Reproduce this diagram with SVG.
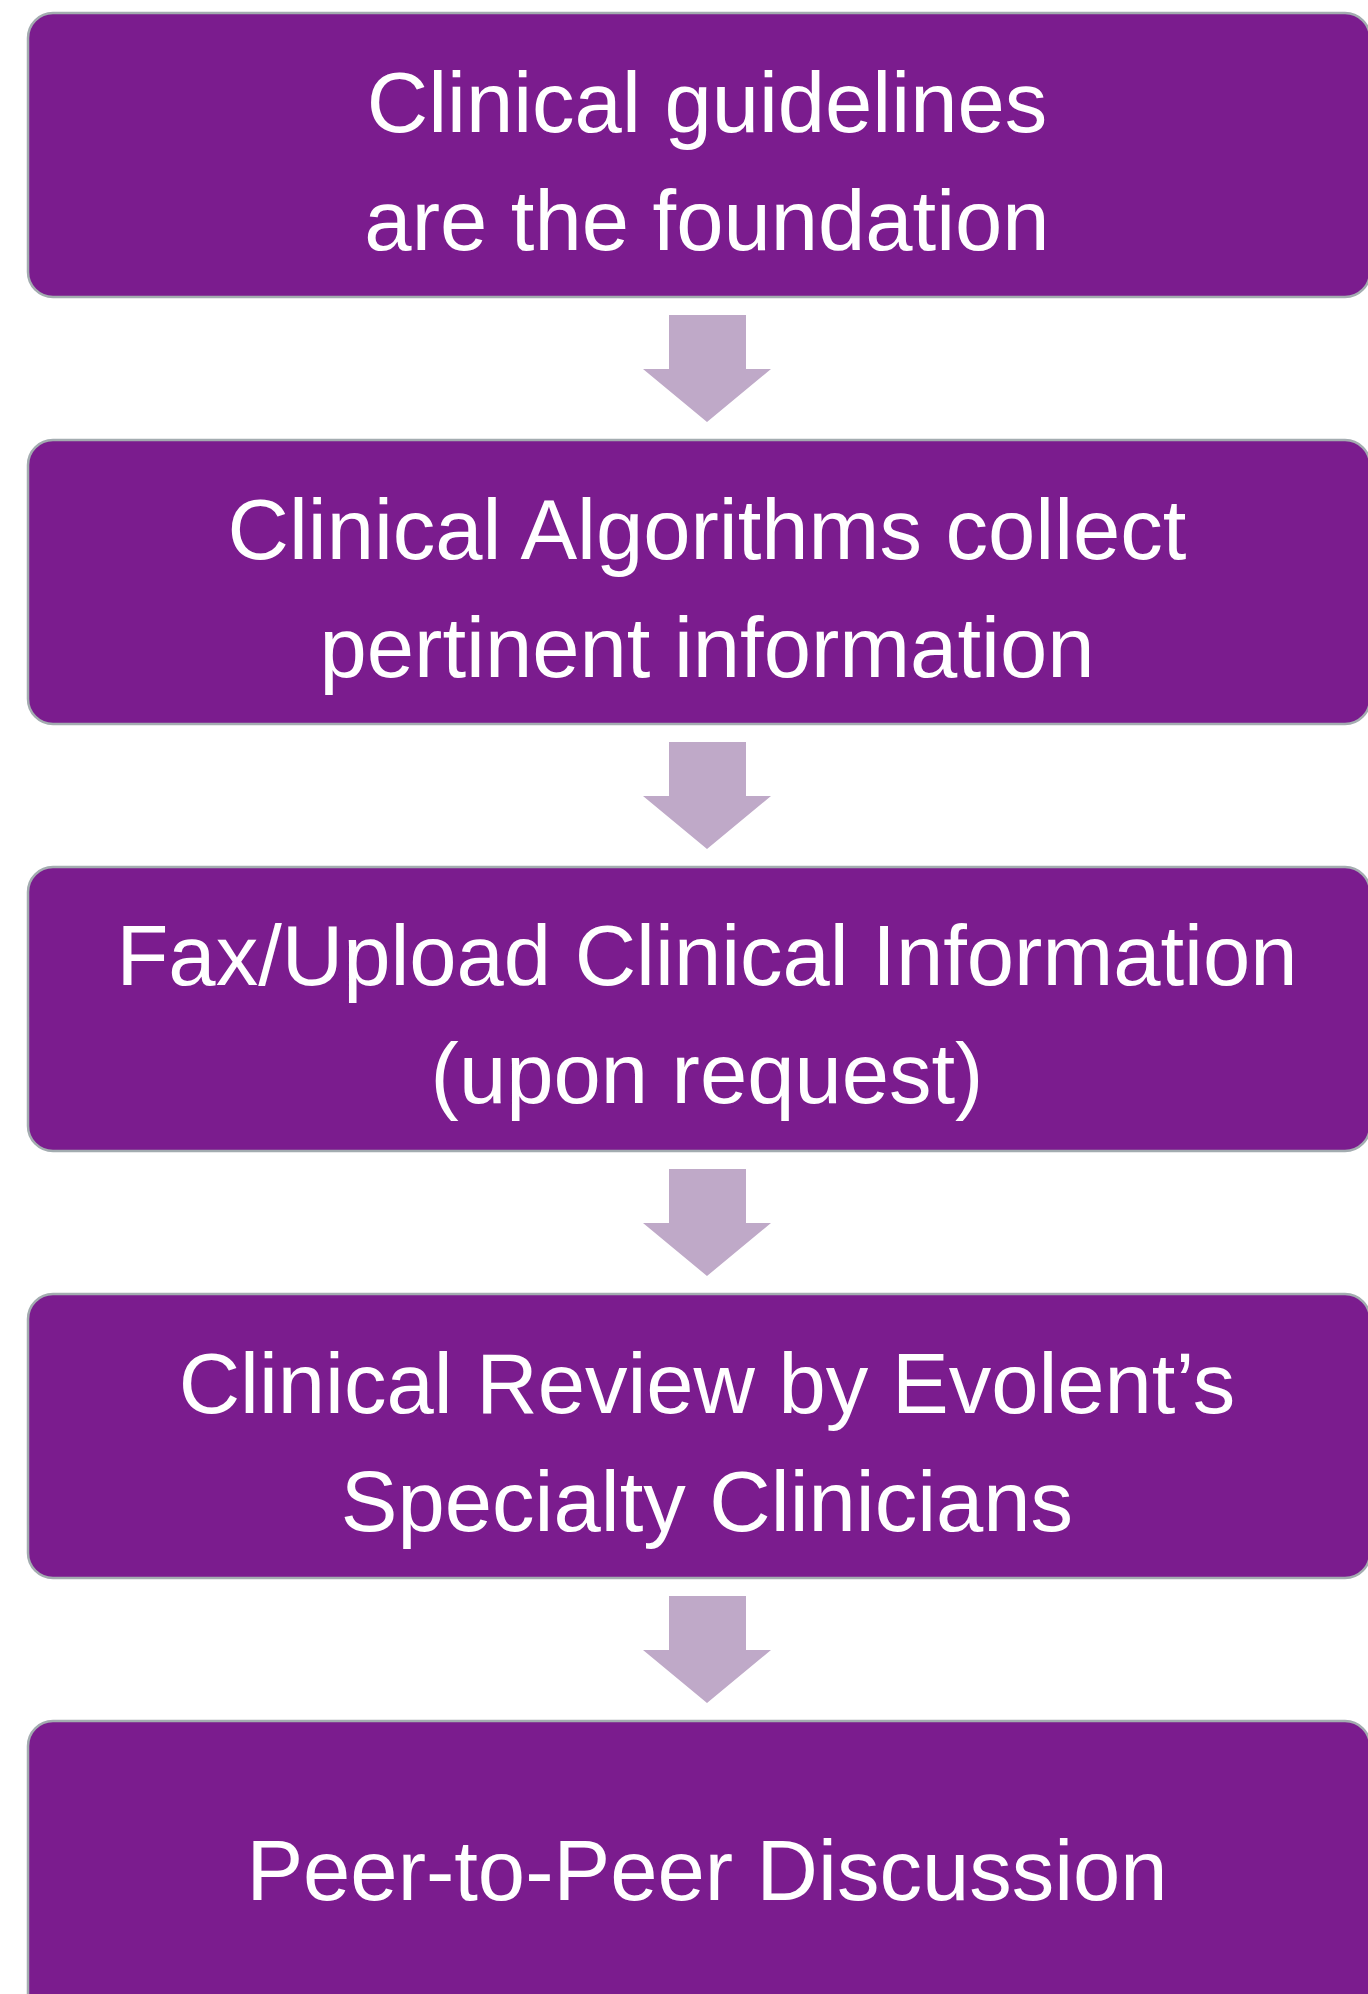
<svg xmlns="http://www.w3.org/2000/svg" width="1368" height="1994" viewBox="0 0 1368 1994">
<defs>
<style>
.box{fill:#7B1C8E;stroke:#A3ACB0;stroke-width:2.5}
.lbl{fill:#FFFFFF;font-family:"Liberation Sans",Arial,sans-serif;font-size:85px;text-anchor:middle}
.arr{fill:#BFA9C8}
</style>
</defs>
<rect width="1368" height="1994" fill="#FFFFFF"/>
<g id="connectors">
<polygon class="arr" points="669,315 746,315 746,369 771,369 707,422 643,369 669,369"/>
<polygon class="arr" points="669,742 746,742 746,796 771,796 707,849 643,796 669,796"/>
<polygon class="arr" points="669,1169 746,1169 746,1223 771,1223 707,1276 643,1223 669,1223"/>
<polygon class="arr" points="669,1596 746,1596 746,1650 771,1650 707,1703 643,1650 669,1650"/>
</g>
<g id="node1">
<rect class="box" x="28" y="13" width="1342" height="284" rx="25"/>
<text class="lbl" x="707" y="132">Clinical guidelines</text>
<text class="lbl" x="707" y="250">are the foundation</text>
</g>
<g id="node2">
<rect class="box" x="28" y="440" width="1342" height="284" rx="25"/>
<text class="lbl" x="707" y="559">Clinical Algorithms collect</text>
<text class="lbl" x="707" y="677">pertinent information</text>
</g>
<g id="node3">
<rect class="box" x="28" y="867" width="1342" height="284" rx="25"/>
<text class="lbl" x="707" y="985">Fax/Upload Clinical Information</text>
<text class="lbl" x="707" y="1103">(upon request)</text>
</g>
<g id="node4">
<rect class="box" x="28" y="1294" width="1342" height="284" rx="25"/>
<text class="lbl" x="707" y="1413">Clinical Review by Evolent’s</text>
<text class="lbl" x="707" y="1531">Specialty Clinicians</text>
</g>
<g id="node5">
<rect class="box" x="28" y="1721" width="1342" height="300" rx="25"/>
<text class="lbl" x="707" y="1900">Peer-to-Peer Discussion</text>
</g>
</svg>
